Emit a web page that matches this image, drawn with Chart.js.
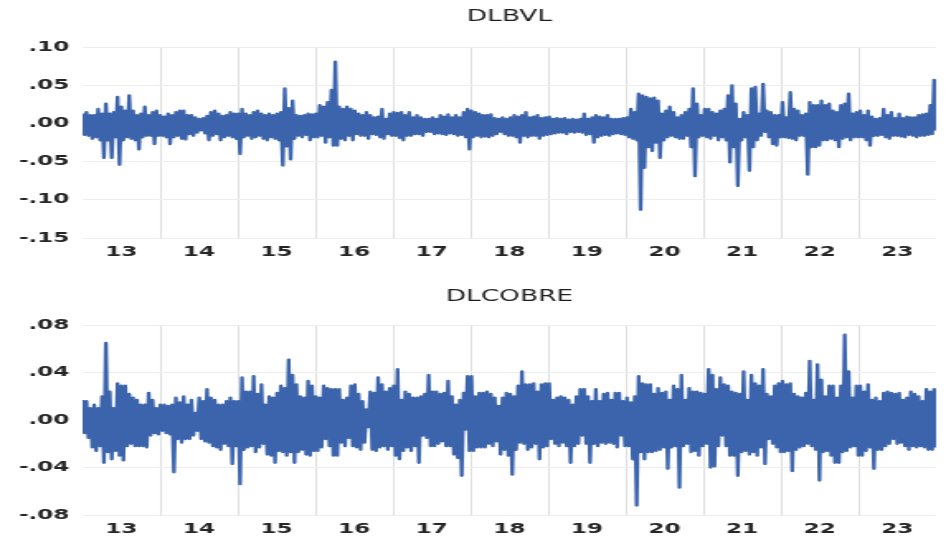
<!DOCTYPE html>
<html>
<head>
<meta charset="utf-8">
<title>DLBVL / DLCOBRE</title>
<script src="https://cdn.jsdelivr.net/npm/chart.js@4.4.0/dist/chart.umd.min.js"></script>
<style>
  body { margin: 0; background: #fff; }
  canvas { display: block; }
</style>
</head>
<body>
<!-- the source picture is stretched sideways, so the canvases are too -->
<canvas id="bvlChart" width="573" height="270" style="width:946px;height:270px"></canvas>
<canvas id="cobreChart" width="573" height="270" style="width:946px;height:270px"></canvas>
<script>
const titles = ['DLBVL', 'DLCOBRE'];
const yearLabels = ['13', '14', '15', '16', '17', '18', '19', '20', '21', '22', '23'];
const firstYear = 2013;
const lastYear = 2024;

// top and bottom of the swing, 20 steps per year
const bvlUp = [
  .013,.015,.011,.011,.019,.013,.026,.013,.015,.035,.022,.017,.037,.017,.011,.013,.022,.011,.015,.017, // 13
  .011,.009,.013,.011,.015,.017,.017,.011,.011,.008,.006,.007,.010,.015,.017,.013,.010,.011,.015,.013, // 14
  .013,.019,.013,.011,.015,.017,.013,.011,.013,.011,.013,.015,.046,.020,.030,.011,.010,.011,.013,.012, // 15
  .013,.024,.022,.028,.044,.081,.022,.019,.022,.019,.017,.013,.011,.015,.011,.008,.009,.019,.006,.013, // 16
  .015,.014,.015,.011,.015,.008,.011,.008,.006,.006,.008,.006,.011,.009,.012,.008,.011,.008,.015,.019, // 17
  .017,.015,.013,.011,.011,.012,.007,.006,.008,.006,.008,.011,.009,.011,.015,.008,.009,.011,.007,.008, // 18
  .009,.006,.007,.006,.007,.005,.006,.005,.006,.013,.006,.008,.011,.009,.008,.011,.006,.006,.006,.007, // 19
  .008,.019,.015,.039,.037,.035,.033,.034,.030,.013,.017,.022,.015,.008,.011,.015,.019,.046,.026,.011, // 20
  .019,.019,.015,.013,.017,.019,.037,.050,.026,.006,.015,.011,.046,.048,.013,.052,.017,.015,.011,.011, // 21
  .028,.008,.041,.019,.017,.011,.013,.028,.024,.024,.030,.024,.026,.017,.015,.024,.026,.039,.013,.015, // 22
  .017,.011,.017,.009,.006,.007,.019,.011,.015,.007,.013,.007,.009,.008,.008,.011,.012,.013,.024,.057  // 23
];
const bvlDown = [
  -.015,-.016,-.020,-.018,-.022,-.045,-.022,-.045,-.018,-.054,-.022,-.018,-.020,-.022,-.034,-.018,-.016,-.016,-.027,-.016,
  -.016,-.018,-.027,-.018,-.016,-.020,-.021,-.014,-.016,-.012,-.009,-.013,-.022,-.016,-.014,-.022,-.018,-.016,-.018,-.020,
  -.040,-.018,-.016,-.020,-.018,-.016,-.020,-.022,-.018,-.020,-.022,-.055,-.030,-.047,-.020,-.016,-.018,-.015,-.022,-.018,
  -.018,-.016,-.025,-.018,-.029,-.029,-.020,-.022,-.016,-.022,-.014,-.016,-.016,-.020,-.014,-.015,-.018,-.020,-.014,-.016,
  -.016,-.019,-.022,-.016,-.016,-.014,-.014,-.016,-.011,-.011,-.014,-.013,-.014,-.015,-.013,-.014,-.016,-.015,-.018,-.034,
  -.018,-.016,-.018,-.017,-.018,-.016,-.014,-.011,-.014,-.016,-.016,-.018,-.025,-.016,-.018,-.016,-.016,-.020,-.016,-.015,
  -.014,-.013,-.012,-.012,-.014,-.011,-.012,-.011,-.012,-.015,-.014,-.025,-.018,-.016,-.015,-.016,-.014,-.013,-.014,-.015,
  -.018,-.020,-.022,-.113,-.058,-.031,-.036,-.025,-.045,-.022,-.018,-.016,-.018,-.020,-.020,-.016,-.031,-.069,-.018,-.016,
  -.018,-.020,-.016,-.022,-.018,-.022,-.051,-.031,-.082,-.022,-.018,-.062,-.031,-.022,-.016,-.011,-.018,-.027,-.029,-.018,
  -.018,-.019,-.020,-.022,-.016,-.016,-.067,-.031,-.031,-.029,-.022,-.022,-.020,-.022,-.031,-.020,-.018,-.022,-.018,-.018,
  -.018,-.022,-.029,-.016,-.016,-.015,-.018,-.020,-.016,-.016,-.017,-.018,-.015,-.016,-.018,-.016,-.016,-.015,-.014,-.009
];
const cobreUp = [
  .017,.016,.010,.013,.010,.020,.065,.024,.010,.031,.029,.029,.022,.019,.017,.013,.013,.023,.017,.010,
  .013,.013,.012,.013,.019,.015,.020,.013,.017,.006,.019,.016,.026,.019,.017,.013,.013,.016,.019,.016,
  .016,.036,.024,.024,.037,.022,.030,.013,.020,.019,.023,.029,.027,.051,.038,.030,.020,.019,.033,.029,
  .020,.019,.029,.027,.026,.026,.026,.017,.019,.029,.030,.022,.016,.009,.024,.023,.036,.030,.024,.027,
  .029,.043,.017,.024,.022,.019,.019,.020,.022,.038,.024,.024,.022,.023,.033,.020,.013,.017,.023,.037,
  .037,.020,.023,.023,.024,.022,.019,.012,.019,.023,.022,.020,.029,.041,.030,.030,.031,.024,.030,.031,
  .031,.017,.019,.020,.019,.017,.013,.020,.026,.026,.020,.016,.026,.016,.022,.023,.017,.023,.023,.016,
  .019,.015,.020,.037,.031,.030,.030,.022,.027,.023,.024,.017,.029,.026,.038,.017,.027,.024,.024,.023,
  .022,.043,.038,.026,.036,.030,.029,.024,.023,.022,.041,.017,.038,.031,.029,.043,.022,.020,.029,.031,
  .033,.030,.031,.022,.020,.019,.023,.050,.017,.047,.034,.020,.029,.029,.019,.029,.072,.041,.019,.029,
  .029,.024,.030,.017,.019,.016,.023,.024,.023,.022,.023,.017,.019,.024,.022,.020,.016,.026,.024,.026
];
const cobreDown = [
  -.011,-.015,-.023,-.026,-.022,-.036,-.027,-.033,-.026,-.030,-.034,-.022,-.020,-.022,-.022,-.022,-.023,-.013,-.011,-.012,
  -.009,-.011,-.012,-.044,-.016,-.019,-.016,-.016,-.013,-.009,-.016,-.018,-.019,-.022,-.023,-.025,-.020,-.022,-.037,-.022,
  -.054,-.025,-.023,-.022,-.027,-.023,-.020,-.029,-.030,-.036,-.026,-.027,-.030,-.027,-.036,-.027,-.025,-.029,-.030,-.026,
  -.026,-.023,-.016,-.022,-.030,-.030,-.019,-.022,-.015,-.022,-.023,-.025,-.019,-.006,-.025,-.026,-.023,-.022,-.025,-.022,
  -.030,-.033,-.026,-.023,-.026,-.022,-.036,-.013,-.015,-.022,-.022,-.020,-.018,-.022,-.022,-.029,-.032,-.047,-.008,-.026,
  -.026,-.023,-.023,-.023,-.020,-.022,-.018,-.029,-.025,-.030,-.046,-.025,-.019,-.020,-.025,-.023,-.020,-.033,-.023,-.022,
  -.016,-.020,-.022,-.019,-.022,-.036,-.022,-.020,-.013,-.020,-.036,-.020,-.022,-.019,-.020,-.019,-.020,-.023,-.013,-.022,
  -.022,-.033,-.072,-.027,-.033,-.027,-.027,-.026,-.025,-.023,-.041,-.023,-.022,-.057,-.022,-.020,-.027,-.026,-.030,-.022,
  -.020,-.040,-.039,-.022,-.013,-.022,-.030,-.030,-.047,-.027,-.026,-.029,-.027,-.030,-.023,-.037,-.016,-.020,-.023,-.027,
  -.027,-.026,-.043,-.025,-.023,-.022,-.020,-.022,-.025,-.051,-.027,-.026,-.030,-.036,-.036,-.027,-.026,-.023,-.022,-.030,
  -.030,-.026,-.023,-.041,-.025,-.025,-.022,-.020,-.016,-.020,-.019,-.022,-.025,-.022,-.023,-.022,-.023,-.025,-.025,-.023
];

// interleave the two swings into one daily-looking line
function buildPoints(up, down) {
  const pts = [];
  const n = up.length * 2;
  for (let i = 0; i < up.length; i++) {
    pts.push({ x: firstYear + (lastYear - firstYear) * (2 * i) / (n - 1), y: up[i] });
    pts.push({ x: firstYear + (lastYear - firstYear) * (2 * i + 1) / (n - 1), y: down[i] });
  }
  return pts;
}

function fmtY(v) {
  if (Math.abs(v) < 1e-9) v = 0;
  return v.toFixed(2).replace('0.', '.');
}

const tickFont = { family: 'DejaVu Sans', size: 14, weight: 'bold' };

function createChart(id, title, points, yMin, yMax, step, titlePad, xHeight) {
  const ctx = document.getElementById(id).getContext('2d');
  return new Chart(ctx, {
    type: 'line',
    data: {
      datasets: [{
        data: points,
        borderColor: '#3b64ad',
        borderWidth: 2.3,
        borderJoinStyle: 'round',
        pointRadius: 0,
        tension: 0,
        fill: false
      }]
    },
    options: {
      responsive: false,
      animation: false,
      devicePixelRatio: 1,
      layout: { padding: 0 },
      plugins: {
        legend: { display: false },
        tooltip: { enabled: false },
        title: {
          display: true,
          text: title,
          fullSize: false,
          color: '#1e1e1e',
          font: { family: 'DejaVu Sans', size: 16, weight: 'normal' },
          padding: titlePad
        }
      },
      scales: {
        x: {
          type: 'linear',
          min: firstYear,
          max: lastYear,
          border: { display: false },
          grid: {
            drawTicks: false,
            lineWidth: 1,
            color: (c) => {
              const v = c.tick ? c.tick.value : null;
              return (v !== null && Number.isInteger(v) && v > firstYear && v < lastYear) ? '#dedede' : 'rgba(0,0,0,0)';
            }
          },
          ticks: {
            stepSize: 0.5,
            autoSkip: false,
            maxRotation: 0,
            minRotation: 0,
            padding: 6,
            color: '#262626',
            font: tickFont,
            callback: (v) => (v % 1 === 0.5 ? yearLabels[Math.floor(v) - firstYear] : '')
          },
          afterFit: (scale) => { scale.height = xHeight; }
        },
        y: {
          min: yMin,
          max: yMax,
          border: { display: false },
          grid: { drawTicks: false, color: '#eeeeee' },
          ticks: {
            stepSize: step,
            padding: 8,
            color: '#262626',
            font: tickFont,
            callback: (v) => fmtY(v)
          },
          afterFit: (scale) => { scale.width = 50; }
        }
      }
    }
  });
}

createChart('bvlChart', titles[0], buildPoints(bvlUp, bvlDown), -0.15, 0.10, 0.05, { top: 7, bottom: 21 }, 32);
createChart('cobreChart', titles[1], buildPoints(cobreUp, cobreDown), -0.08, 0.08, 0.04, { top: 17, bottom: 19 }, 25);
</script>
</body>
</html>
